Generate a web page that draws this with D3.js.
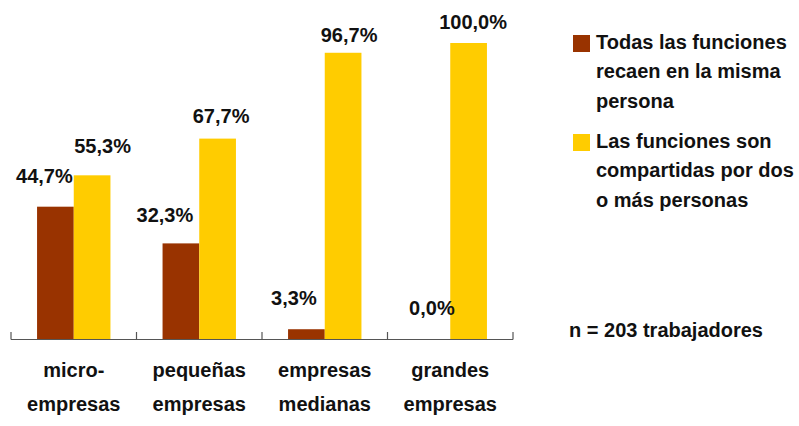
<!DOCTYPE html>
<html>
<head>
<meta charset="utf-8">
<script src="https://cdn.jsdelivr.net/npm/d3@7"></script>
<style>
  body { margin: 0; background: #fff; }
  svg text { font-family: "Liberation Sans", Arial, sans-serif; font-weight: bold; fill: #111; }
</style>
</head>
<body>
<div class="wrapper"></div>
<script>
var categories = [["micro-", "empresas"], ["pequeñas", "empresas"], ["empresas", "medianas"], ["grandes", "empresas"]];
var seriesNames = ["Todas las funciones recaen en la misma persona", "Las funciones son compartidas por dos o más personas"];
var legendLines = [["Todas las funciones", "recaen en la misma", "persona"], ["Las funciones son", "compartidas por dos", "o más personas"]];
var misma = [44.7, 32.3, 3.3, 0.0];
var compartidas = [55.3, 67.7, 96.7, 100.0];
var note = "n = 203 trabajadores";

// label nudges (px) so the value labels sit where the original puts them
var nudgeX = { misma: [-11, -16, -12.5, 0], compartidas: [10.5, 3.5, 6, 4.5] };
var nudgeY = { misma: [24, 21, 24, 24], compartidas: [22, 16, 11, 14] };

var width = 799, height = 426;
var colors = ["#993300", "#ffcc00"];
var keys = ["misma", "compartidas"];
var fs = 20;
var fmt = function(v) { return v.toFixed(1).replace(".", ",") + "%"; };

var svg = d3.select(".wrapper").append("svg")
  .attr("width", width)
  .attr("height", height);

var catIdx = d3.range(categories.length);
var x0 = d3.scaleBand().domain(catIdx).range([11, 513]);
var x1 = d3.scaleBand().domain(keys).range([0, x0.bandwidth()]).paddingOuter(0.71).paddingInner(0);
var y = d3.scaleLinear().domain([0, 100]).range([339, 43]);

var rows = catIdx.map(function(i) {
  return [{ key: "misma", value: misma[i], i: i }, { key: "compartidas", value: compartidas[i], i: i }];
});

var groups = svg.append("g").selectAll("g")
  .data(rows)
  .enter().append("g")
    .attr("transform", function(d, i) { return "translate(" + x0(i) + ",0)"; });

groups.selectAll("rect")
  .data(function(d) { return d; })
  .enter().append("rect")
    .attr("x", function(d) { return x1(d.key); })
    .attr("y", function(d) { return y(d.value); })
    .attr("width", x1.bandwidth())
    .attr("height", function(d) { return y(0) - y(d.value); })
    .attr("fill", function(d, j) { return colors[j]; });

groups.selectAll("text.val")
  .data(function(d) { return d; })
  .enter().append("text")
    .attr("class", "val")
    .attr("x", function(d) { return x1(d.key) + x1.bandwidth() / 2 + nudgeX[d.key][d.i]; })
    .attr("y", function(d) { return y(d.value) - nudgeY[d.key][d.i]; })
    .attr("text-anchor", "middle")
    .attr("font-size", fs)
    .text(function(d) { return fmt(d.value); });

// axis line with ticks at category boundaries
var axis = svg.append("g").attr("stroke", "#555").attr("stroke-width", 1.2);
axis.append("line")
  .attr("x1", x0.range()[0]).attr("x2", x0.range()[1])
  .attr("y1", y(0) + 0.5).attr("y2", y(0) + 0.5);
var bounds = catIdx.map(function(i) { return x0(i); }).concat([x0.range()[1]]);
axis.selectAll("line.tick")
  .data(bounds)
  .enter().append("line")
    .attr("class", "tick")
    .attr("x1", function(d) { return d; }).attr("x2", function(d) { return d; })
    .attr("y1", y(0) - 7).attr("y2", y(0) + 0.5);

// category labels
var catText = svg.append("g").selectAll("text")
  .data(categories)
  .enter().append("text")
    .attr("x", function(d, i) { return x0(i) + x0.bandwidth() / 2; })
    .attr("y", 377)
    .attr("text-anchor", "middle")
    .attr("font-size", fs);
catText.selectAll("tspan")
  .data(function(d) { return d; })
  .enter().append("tspan")
    .attr("x", function() { return this.parentNode.getAttribute("x"); })
    .attr("dy", function(d, i) { return i === 0 ? 0 : 33.5; })
    .text(function(d) { return d; });

// legend
var legendTop = [35, 134];
var legend = svg.append("g").selectAll("g")
  .data(seriesNames)
  .enter().append("g")
    .attr("transform", function(d, i) { return "translate(573," + legendTop[i] + ")"; });
legend.append("rect")
  .attr("width", 17).attr("height", 17)
  .attr("fill", function(d, i) { return colors[i]; });
legend.append("text")
  .attr("x", 23)
  .attr("y", 13.5)
  .attr("font-size", fs)
  .selectAll("tspan")
  .data(function(d, i) { return legendLines[i]; })
  .enter().append("tspan")
    .attr("x", 23)
    .attr("dy", function(d, i) { return i === 0 ? 0 : 29.5; })
    .text(function(d) { return d; });

svg.append("text")
  .attr("x", 569)
  .attr("y", 337)
  .attr("font-size", fs)
  .text(note);
</script>
</body>
</html>
